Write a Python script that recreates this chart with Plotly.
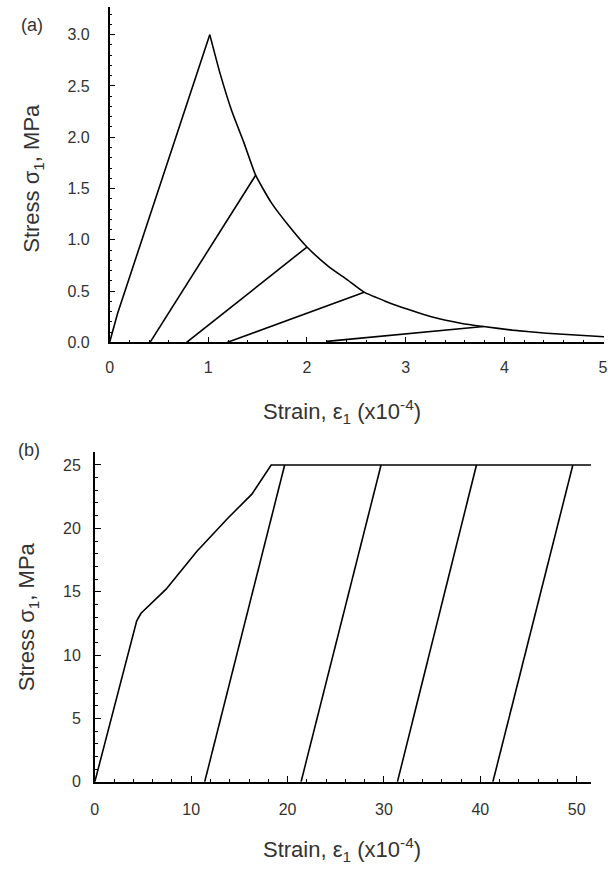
import plotly.graph_objects as go

# ---------------- Panel (a) data ----------------
a_load_x = [0.0, 0.08, 1.015]
a_load_y = [0.0, 0.28, 3.0]
a_soft_x = [1.015, 1.12, 1.24, 1.36, 1.48, 1.64, 1.83, 2.0, 2.22, 2.41, 2.58,
            2.80, 3.03, 3.26, 3.57, 3.79, 4.08, 4.43, 5.01]
a_soft_y = [3.0, 2.62, 2.25, 1.95, 1.63, 1.36, 1.12, 0.93, 0.74, 0.61, 0.49,
            0.40, 0.32, 0.25, 0.185, 0.155, 0.12, 0.09, 0.055]
a_reload_x0 = [0.41, 0.78, 1.19, 2.20]
a_reload_y0 = [0.0, 0.0, 0.0, 0.01]
a_reload_x1 = [1.48, 2.0, 2.58, 3.79]
a_reload_y1 = [1.63, 0.93, 0.49, 0.155]

# ---------------- Panel (b) data ----------------
b_env_x = [0.0, 4.35, 4.8, 7.4, 10.6, 13.8, 16.3, 18.3, 51.5]
b_env_y = [0.0, 12.7, 13.3, 15.2, 18.2, 20.8, 22.7, 25.0, 25.0]
b_reload_x0 = [11.4, 21.4, 31.4, 41.3]
b_reload_y0 = [0.0, 0.0, 0.0, 0.0]
b_reload_x1 = [19.7, 29.7, 39.6, 49.6]
b_reload_y1 = [25.0, 25.0, 25.0, 25.0]

W, H = 608, 874
LINE = dict(color="black", width=1.6)
TXT = "#333333"
FONT = "Liberation Sans, Arial, sans-serif"

fig = go.Figure()

fig.add_trace(go.Scatter(x=a_load_x, y=a_load_y, mode="lines", line=LINE,
                         xaxis="x", yaxis="y", showlegend=False))
fig.add_trace(go.Scatter(x=a_soft_x, y=a_soft_y, mode="lines",
                         line=dict(color="black", width=1.6, shape="spline", smoothing=0.5),
                         xaxis="x", yaxis="y", showlegend=False))
for x0, y0, x1, y1 in zip(a_reload_x0, a_reload_y0, a_reload_x1, a_reload_y1):
    fig.add_trace(go.Scatter(x=[x0, x1], y=[y0, y1], mode="lines", line=LINE,
                             xaxis="x", yaxis="y", showlegend=False))

fig.add_trace(go.Scatter(x=b_env_x, y=b_env_y, mode="lines", line=LINE,
                         xaxis="x2", yaxis="y2", showlegend=False))
for x0, y0, x1, y1 in zip(b_reload_x0, b_reload_y0, b_reload_x1, b_reload_y1):
    fig.add_trace(go.Scatter(x=[x0, x1], y=[y0, y1], mode="lines", line=LINE,
                             xaxis="x2", yaxis="y2", showlegend=False))


def px_x(p):
    return p / W


def px_y(p):
    return 1 - p / H


axis_common = dict(showline=True, linecolor="black", linewidth=1.5, showgrid=False,
                   zeroline=False, ticks="inside", ticklen=6, tickwidth=1.2,
                   tickcolor="black", tickfont=dict(size=16, color=TXT, family=FONT),
                   fixedrange=True, ticklabeloverflow="allow")

fig.update_layout(
    width=W, height=H,
    margin=dict(l=0, r=0, t=0, b=0),
    paper_bgcolor="white", plot_bgcolor="white",
    font=dict(family=FONT, color=TXT),
    xaxis=dict(domain=[px_x(107), 1.0], range=[0, 5.01], dtick=1, anchor="y",
               minor=dict(ticks="inside", ticklen=3, dtick=0.2, tickcolor="black"),
               ticklabelstandoff=10, **axis_common),
    yaxis=dict(domain=[px_y(346), px_y(7)], range=[0, 3.27], dtick=0.5, tickformat=".1f",
               anchor="x", minor=dict(ticks="inside", ticklen=3, dtick=0.1, tickcolor="black"),
               ticklabelstandoff=15, **axis_common),
    xaxis2=dict(domain=[px_x(92), px_x(595)], range=[0, 51.5], dtick=10, anchor="y2",
                minor=dict(ticks="inside", ticklen=3, dtick=2, tickcolor="black"),
                ticklabelstandoff=12, **axis_common),
    yaxis2=dict(domain=[px_y(790), px_y(457)], range=[0, 26], dtick=5, anchor="x2",
                minor=dict(ticks="inside", ticklen=3, dtick=1, tickcolor="black"),
                ticklabelstandoff=9, **axis_common),
)

ann = [
    dict(text="(a)", x=px_x(28), y=px_y(25), size=18, angle=0),
    dict(text="(b)", x=px_x(25), y=px_y(455), size=18, angle=0),
    dict(text="Stress σ<sub>1</sub>, MPa", x=px_x(30), y=px_y(180), size=22, angle=-90),
    dict(text="Stress σ<sub>1</sub>, MPa", x=px_x(24), y=px_y(623), size=22, angle=-90),
    dict(text="Strain, ε<sub>1</sub> (x10<sup>-4</sup>)", x=px_x(343), y=px_y(416), size=22, angle=0),
    dict(text="Strain, ε<sub>1</sub> (x10<sup>-4</sup>)", x=px_x(343), y=px_y(858), size=22, angle=0),
]
for a in ann:
    fig.add_annotation(text=a["text"], x=a["x"], y=a["y"], xref="paper", yref="paper",
                       xanchor="center", yanchor="middle", showarrow=False,
                       textangle=a["angle"], font=dict(size=a["size"], color=TXT, family=FONT))

fig.write_html("out.html")
